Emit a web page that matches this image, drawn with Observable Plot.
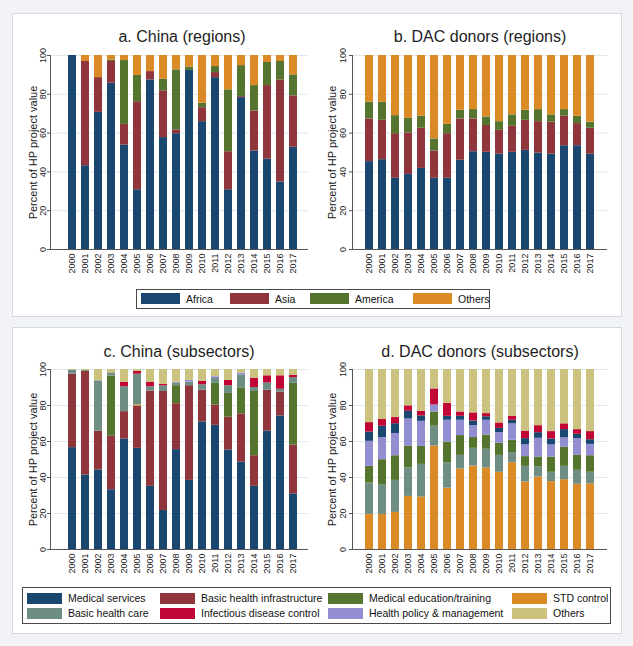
<!DOCTYPE html>
<html><head><meta charset="utf-8">
<script src="https://cdn.jsdelivr.net/npm/d3@7"></script>
<script src="https://cdn.jsdelivr.net/npm/@observablehq/plot@0.6"></script>
<style>
body{margin:0;background:#f1f3f6;font-family:"Liberation Sans",Arial,sans-serif;}
#page{position:relative;width:633px;height:646px;overflow:hidden;}
.box{position:absolute;background:#fff;border:1px solid #d3d8de;box-sizing:border-box;}
.title{position:absolute;font-size:16px;color:#1e1e1e;transform:translate(-50%,-50%);white-space:nowrap;}
.panel{position:absolute;}
.legend{position:absolute;border:1px solid #4a4a4a;background:#fff;box-sizing:border-box;}
.sw{position:absolute;}
.lt{position:absolute;font-size:10.5px;color:#111;white-space:nowrap;transform:translateY(-50%);}
</style></head><body><div id="page"></div>
<script>
const years = ["2000","2001","2002","2003","2004","2005","2006","2007","2008","2009","2010","2011","2012","2013","2014","2015","2016","2017"];
const yTicks = [0, 20, 40, 60, 80, 100];
const yLabel = "Percent of HP project value";

// Regions
const regionSeries = ["Africa", "Asia", "America", "Others"];
const regionColors = ["#1a476f", "#90353b", "#55752f", "#dc8a26"];
const chinaAfrica  = [100, 43.2, 70.7, 85.7, 53.9, 30.8, 87.4, 57.7, 59.7, 92.3, 65.9, 88.6, 30.8, 78.3, 50.8, 46.6, 34.8, 52.7];
const chinaAsia    = [0, 53.7, 17.9, 11.2, 10.6, 45.4, 4.3, 24.1, 1.9, 0, 7.2, 2.6, 19.6, 0.5, 20.6, 37.9, 52.6, 26.5];
const chinaAmerica = [0, 0, 0, 0.7, 32.9, 13.5, 0, 6.0, 31.0, 1.7, 2.3, 3.1, 31.9, 16.0, 13.1, 11.9, 9.5, 10.8];
const chinaOthers  = [0, 3.1, 11.4, 2.4, 2.6, 10.3, 8.3, 12.2, 7.4, 6.0, 24.6, 5.7, 17.7, 5.2, 15.5, 3.6, 3.1, 10.0];
const dacAfrica    = [45.3, 46.3, 36.7, 38.7, 41.8, 36.7, 36.7, 46.0, 50.4, 50.1, 49.1, 50.1, 51.1, 49.7, 49.1, 53.5, 53.5, 49.1];
const dacAsia      = [22.0, 20.3, 23.0, 21.4, 20.7, 14.1, 23.0, 21.3, 16.9, 13.8, 12.3, 13.4, 15.5, 16.2, 16.5, 15.2, 11.4, 13.4];
const dacAmerica   = [8.6, 9.3, 9.3, 7.5, 6.2, 6.2, 4.8, 4.5, 4.8, 4.4, 4.5, 5.9, 5.2, 6.2, 3.8, 3.4, 3.8, 3.1];
const dacOthers    = [24.1, 24.1, 31.0, 32.4, 31.3, 43.0, 35.5, 28.2, 27.9, 31.7, 34.1, 30.6, 28.2, 27.9, 30.6, 27.9, 31.3, 34.4];

// Subsectors
const subSeries = ["Medical services", "Basic health infrastructure", "Medical education/training", "STD control",
                   "Basic health care", "Infectious disease control", "Health policy & management", "Others"];
const subColors = ["#1a476f", "#90353b", "#55752f", "#dc8a26", "#6e8e84", "#c10534", "#938dd2", "#cac27e"];
const chinaMedServices = [56.6, 41.4, 44.2, 33.2, 61.4, 56.2, 35.1, 21.7, 55.5, 38.4, 70.9, 69.0, 55.3, 48.5, 35.1, 65.8, 74.2, 30.9];
const chinaInfra       = [40.8, 57.5, 21.5, 29.7, 15.2, 23.4, 53.0, 66.1, 25.5, 52.6, 17.6, 11.3, 18.2, 26.7, 17.0, 22.7, 13.3, 27.1];
const chinaEducation   = [0, 0, 0, 33.4, 0, 0, 0, 0, 10.0, 0, 0, 12.0, 13.2, 14.6, 35.7, 0, 0, 34.3];
const chinaSTD         = [0, 0, 0, 0, 0, 0.7, 0, 0, 0, 0, 0, 0, 0, 0, 0, 0, 0, 0];
const chinaBasicCare   = [2.3, 0.5, 28.0, 1.8, 13.8, 17.1, 2.3, 3.1, 1.5, 2.0, 3.0, 2.7, 4.3, 7.2, 2.2, 4.0, 1.5, 3.2];
const chinaInfectious  = [0, 0, 0, 0, 2.4, 1.5, 2.4, 0.9, 0, 0, 2.0, 0, 3.0, 0, 5.2, 4.0, 7.5, 1.3];
const chinaPolicy      = [0, 0, 0, 0, 0, 0, 0, 0, 0.5, 1.0, 0, 1.0, 0, 1.0, 0, 0, 0, 0];
const chinaSubOthers   = [0.3, 0.6, 6.3, 1.9, 7.2, 1.1, 7.2, 8.2, 7.0, 6.0, 6.5, 4.0, 6.0, 2.0, 4.8, 3.5, 3.5, 3.2];

const dacSTD         = [19.5, 19.5, 20.6, 29.5, 29.1, 57.5, 34.1, 44.7, 46.4, 45.3, 42.9, 48.2, 37.5, 40.3, 37.7, 38.8, 36.2, 36.5];
const dacBasicCare   = [17.4, 16.3, 17.8, 15.8, 18.2, 11.0, 14.1, 7.6, 9.8, 10.4, 9.4, 5.6, 8.7, 5.7, 5.2, 7.4, 7.8, 6.4];
const dacEducation   = [9.3, 14.1, 13.7, 12.2, 10.0, 7.9, 11.5, 11.0, 6.0, 7.9, 6.7, 6.9, 5.4, 5.4, 8.5, 10.6, 8.3, 9.2];
const dacPolicy      = [13.9, 12.3, 12.3, 15.0, 13.9, 3.9, 12.1, 8.5, 6.6, 8.2, 5.9, 9.1, 6.5, 10.4, 6.7, 5.2, 9.3, 6.3];
const dacMedServices = [5.2, 6.3, 5.5, 4.3, 3.0, 0, 2.2, 2.2, 2.6, 1.9, 2.4, 2.0, 3.5, 3.1, 3.3, 4.6, 2.4, 2.6];
const dacInfectious  = [5.2, 3.7, 3.4, 3.0, 2.6, 8.9, 7.1, 2.4, 4.5, 1.8, 3.0, 2.2, 4.1, 3.9, 4.1, 3.2, 2.6, 4.5];
const dacSubOthers   = [29.5, 27.8, 26.7, 20.2, 23.2, 10.8, 18.9, 23.6, 24.1, 24.5, 29.7, 26.0, 34.3, 31.2, 34.5, 30.2, 33.4, 34.5];

function table(names, arrays) {
  const rows = [];
  names.forEach((s, i) => arrays[i].forEach((v, j) => rows.push({year: years[j], series: s, value: v})));
  return rows;
}

const chinaRegions = table(regionSeries, [chinaAfrica, chinaAsia, chinaAmerica, chinaOthers]);
const dacRegions = table(regionSeries, [dacAfrica, dacAsia, dacAmerica, dacOthers]);
const chinaSub = table(subSeries, [chinaMedServices, chinaInfra, chinaEducation, chinaSTD, chinaBasicCare, chinaInfectious, chinaPolicy, chinaSubOthers]);
const dacOrder = ["STD control", "Basic health care", "Medical education/training", "Health policy & management", "Medical services", "Infectious disease control", "Others"];
const dacSub = table(dacOrder, [dacSTD, dacBasicCare, dacEducation, dacPolicy, dacMedServices, dacInfectious, dacSubOthers]);

const page = document.getElementById("page");
function el(cls, css, text) {
  const d = document.createElement("div");
  d.className = cls;
  Object.assign(d.style, css);
  if (text != null) d.textContent = text;
  page.appendChild(d);
  return d;
}

// boxes
el("box", {left: "12px", top: "13px", width: "610px", height: "304px"});
el("box", {left: "12px", top: "327px", width: "610px", height: "307px"});

function panel(o) {
  const chart = Plot.plot({
    width: o.width, height: o.height,
    marginTop: 10, marginBottom: 31, marginLeft: o.marginLeft, marginRight: o.marginRight,
    style: {fontFamily: "'Liberation Sans', Arial, sans-serif", fontSize: "9px", color: "#222", background: "transparent", overflow: "visible"},
    x: {type: "band", domain: years, paddingInner: 0.37, paddingOuter: o.po, align: o.align},
    y: {domain: [0, 100]},
    color: {domain: o.colorDomain, range: o.colorRange},
    marks: [
      Plot.gridY(yTicks, {stroke: "#dfe9ec", strokeOpacity: 1}),
      Plot.barY(o.data, {x: "year", y: "value", fill: "series", order: o.order}),
      Plot.axisY(yTicks, {tickSize: 3, tickFormat: () => "", stroke: "#555", label: null}),
      Plot.text(yTicks, {y: d => d, text: d => String(d), frameAnchor: "left", textAnchor: "middle", lineAnchor: "middle", rotate: -90, dx: o.tickDx, fontSize: 9, fill: "#222"}),
      Plot.axisX(years, {tickRotate: -90, tickSize: 0, tickPadding: 4, fill: "#222", label: null}),
      Plot.frame({anchor: "left", stroke: "#555"}),
      Plot.ruleY([0], {stroke: "#555"}),
      Plot.text([yLabel], {frameAnchor: "left", textAnchor: "middle", lineAnchor: "middle", rotate: -90, dx: o.labelDx, fontSize: 11, fill: "#222"})
    ]
  });
  const wrap = el("panel", {left: o.left + "px", top: o.top + "px"});
  wrap.appendChild(chart);
}

const leftP = {left: 0, width: 315, marginLeft: 50, marginRight: 7, po: 0.846, align: 0.61, labelDx: -17.5, tickDx: -7};
const rightP = {left: 310, width: 312, marginLeft: 42, marginRight: 15, po: 0.774, align: 0.52, labelDx: -20, tickDx: -9.5};

panel({...leftP, top: 45, height: 235, data: chinaRegions, order: regionSeries, colorDomain: regionSeries, colorRange: regionColors});
panel({...rightP, top: 45, height: 235, data: dacRegions, order: regionSeries, colorDomain: regionSeries, colorRange: regionColors});
panel({...leftP, top: 359, height: 221, data: chinaSub, order: subSeries, colorDomain: subSeries, colorRange: subColors});
panel({...rightP, top: 359, height: 221, data: dacSub, order: dacOrder, colorDomain: subSeries, colorRange: subColors});

// titles
el("title", {left: "182px", top: "37px"}, "a. China (regions)");
el("title", {left: "480px", top: "37px"}, "b. DAC donors (regions)");
el("title", {left: "179px", top: "352px"}, "c. China (subsectors)");
el("title", {left: "480px", top: "352px"}, "d. DAC donors (subsectors)");

// top legend
el("legend", {left: "136px", top: "289px", width: "354px", height: "20px"});
const topX = [141, 230, 310, 413];
regionSeries.forEach((s, i) => {
  el("sw", {left: topX[i] + "px", top: "293px", width: "39px", height: "11px", background: regionColors[i]});
  el("lt", {left: (topX[i] + 45) + "px", top: "298.5px"}, s);
});

// bottom legend
el("legend", {left: "22px", top: "587px", width: "589px", height: "37px"});
const colX = [27, 160, 328, 512];
const rowY = [598, 613];
subSeries.forEach((s, i) => {
  const c = i % 4, r = Math.floor(i / 4);
  el("sw", {left: colX[c] + "px", top: (rowY[r] - 5) + "px", width: "35px", height: "10.5px", background: subColors[i]});
  el("lt", {left: (colX[c] + 41) + "px", top: rowY[r] + "px"}, s);
});
</script>
</body></html>
